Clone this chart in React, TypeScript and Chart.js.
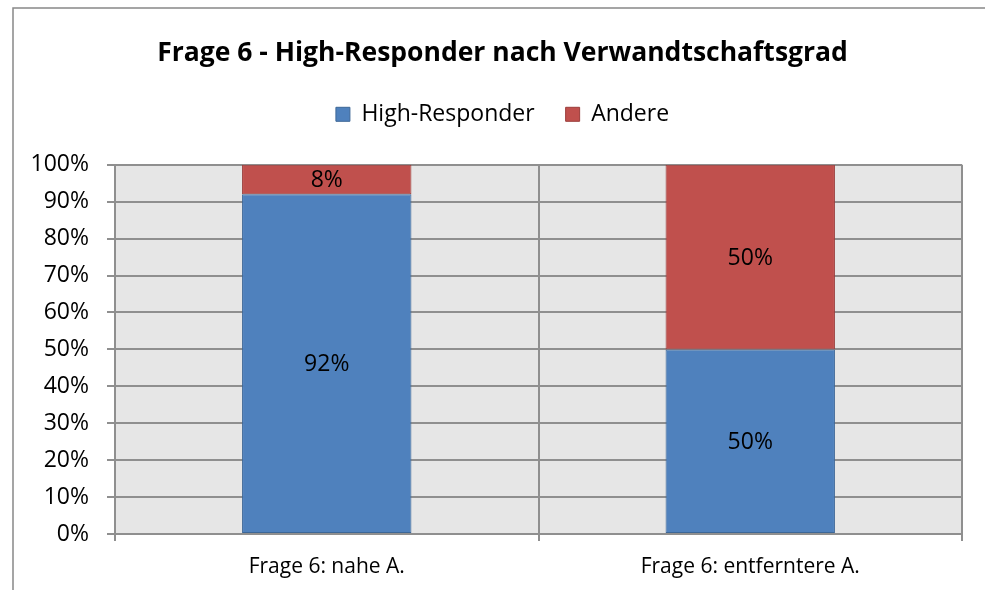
import React, { useEffect, useRef } from 'react';
import { Chart, registerables } from 'chart.js';

Chart.register(...registerables);

const titleText = 'Frage 6 - High-Responder nach Verwandtschaftsgrad';
const categories = ['Frage 6: nahe A.', 'Frage 6: entferntere A.'];
const seriesNames = ['High-Responder', 'Andere'];
const highResponder = [92, 50];
const andere = [8, 50];
const yMin = 0;
const yMax = 100;
const yStep = 10;

const FONT = "'Open Sans', sans-serif";
const GRID = '#8f8f8f';
const CANVAS_W = 1000;
const CANVAS_H = 590;

const backgroundPlugin = {
  id: 'excelBackground',
  beforeDraw(chart: any) {
    const { ctx, chartArea } = chart;
    ctx.save();
    ctx.fillStyle = '#e6e6e6';
    ctx.fillRect(chartArea.left, chartArea.top, chartArea.right - chartArea.left, chartArea.bottom - chartArea.top);
    ctx.strokeStyle = '#888888';
    ctx.lineWidth = 1.5;
    ctx.beginPath();
    ctx.moveTo(13, CANVAS_H);
    ctx.lineTo(13, 8);
    ctx.lineTo(CANVAS_W, 8);
    ctx.stroke();
    ctx.restore();
  },
};

const valueLabelPlugin = {
  id: 'valueLabels',
  afterDatasetsDraw(chart: any) {
    const { ctx } = chart;
    ctx.save();
    ctx.font = `23px ${FONT}`;
    ctx.fillStyle = '#000000';
    ctx.textAlign = 'center';
    ctx.textBaseline = 'middle';
    chart.data.datasets.forEach((ds: any, di: number) => {
      const meta = chart.getDatasetMeta(di);
      meta.data.forEach((bar: any, i: number) => {
        const v = ds.data[i];
        const p = bar.getCenterPoint();
        ctx.fillText(`${v}%`, p.x, p.y + 1);
      });
    });
    ctx.restore();
  },
};

export default function App() {
  const ref = useRef<HTMLCanvasElement | null>(null);

  useEffect(() => {
    if (!ref.current) return;
    const chart = new Chart(ref.current, {
      type: 'bar',
      data: {
        labels: categories,
        datasets: [
          {
            label: seriesNames[0],
            data: highResponder,
            backgroundColor: '#4f81bd',
            borderColor: '#3d6797',
            borderWidth: 1,
            borderSkipped: false,
            barPercentage: 0.4,
            categoryPercentage: 1,
          },
          {
            label: seriesNames[1],
            data: andere,
            backgroundColor: '#c0504d',
            borderColor: '#9b3d3b',
            borderWidth: 1,
            borderSkipped: false,
            barPercentage: 0.4,
            categoryPercentage: 1,
          },
        ],
      },
      options: {
        responsive: false,
        animation: false,
        layout: { padding: { left: 13, right: 8, top: 0, bottom: 0 } },
        plugins: {
          title: {
            display: true,
            text: titleText,
            color: '#000000',
            font: { family: FONT, size: 26.5, weight: 'bold' },
            padding: { top: 38, bottom: 2 },
          },
          legend: {
            display: true,
            labels: {
              boxWidth: 14,
              boxHeight: 14,
              padding: 31,
              color: '#000000',
              font: { family: FONT, size: 23 },
            },
          },
          tooltip: { enabled: false },
        },
        scales: {
          x: {
            stacked: true,
            grid: { offset: true, color: GRID, lineWidth: 2, tickLength: 7 },
            border: { color: GRID, width: 2 },
            ticks: { color: '#000000', font: { family: FONT, size: 21 }, padding: 13 },
            afterFit: (s: any) => { s.height = 56; },
          },
          y: {
            stacked: true,
            min: yMin,
            max: yMax,
            ticks: {
              stepSize: yStep,
              color: '#000000',
              font: { family: FONT, size: 23 },
              padding: 18,
              callback: (v: any) => `${v}%`,
            },
            grid: { color: GRID, lineWidth: 2, tickLength: 8 },
            border: { color: GRID, width: 2 },
            afterFit: (s: any) => { s.width = 102; },
          },
          x2: {
            type: 'category',
            position: 'top',
            display: true,
            grid: { display: false },
            ticks: { display: false },
            border: { display: false },
            afterFit: (s: any) => { s.height = 29; },
          },
          y2: {
            type: 'linear',
            position: 'right',
            display: true,
            grid: { display: false },
            ticks: { display: false },
            border: { display: false },
            afterFit: (s: any) => { s.width = 30; },
          },
        },
      } as any,
      plugins: [backgroundPlugin, valueLabelPlugin],
    });
    return () => chart.destroy();
  }, []);

  return (
    <div style={{ position: 'fixed', left: 0, top: 0, width: 985, height: 590, overflow: 'hidden', background: '#ffffff' }}>
      <canvas ref={ref} width={CANVAS_W} height={CANVAS_H} style={{ width: CANVAS_W, height: CANVAS_H, display: 'block' }} />
    </div>
  );
}
